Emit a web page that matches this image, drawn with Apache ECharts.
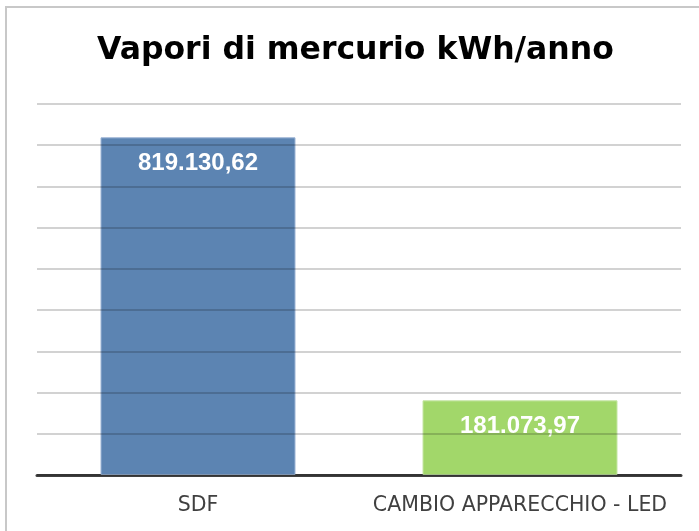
<!DOCTYPE html>
<html>
<head>
<meta charset="utf-8">
<script src="https://cdn.jsdelivr.net/npm/echarts@6/dist/echarts.min.js"></script>
<style>
  html, body { margin: 0; padding: 0; background: #fff; }
  #chart { width: 699px; height: 531px; }
</style>
</head>
<body>
<div id="chart"></div>
<script>
// dati del grafico
var categorie = ["SDF", "CAMBIO APPARECCHIO - LED"];
var valori = [819130.62, 181073.97];
var coloriBarre = ["rgba(64,110,165,0.85)", "rgba(146,208,80,0.85)"];
var bordiBarre = ["#9cb4d5", "#c5e6a4"];

(function () {
  var myChart = echarts.init(document.getElementById("chart"));

  // formato italiano: 819.130,62
  function formatIt(v) {
    var parts = v.toFixed(2).split(".");
    return parts[0].replace(/\B(?=(\d{3})+(?!\d))/g, ".") + "," + parts[1];
  }

  var option = {
    animation: false,
    title: {
      text: "Vapori di mercurio kWh/anno",
      left: 92,
      top: 30,
      textStyle: {
        fontFamily: "DejaVu Sans",
        fontWeight: "bold",
        fontSize: 31.5,
        color: "#000"
      }
    },
    // cornice esterna
    graphic: [
      {
        type: "rect",
        shape: { x: 6, y: 7, width: 700, height: 540 },
        style: { fill: "none", stroke: "#c8c8c8", lineWidth: 2 },
        silent: true
      }
    ],
    grid: {
      left: 37,
      right: 18,
      top: 104,
      bottom: 56
    },
    xAxis: {
      type: "category",
      data: categorie,
      axisTick: { show: false },
      axisLine: {
        lineStyle: { color: "#404040", width: 3 }
      },
      axisLabel: {
        interval: 0,
        color: "#404040",
        fontFamily: "DejaVu Sans",
        fontSize: 20.5,
        margin: 20
      }
    },
    yAxis: {
      type: "value",
      min: 0,
      max: 900000,
      interval: 100000,
      z: 3,
      axisLabel: { show: false },
      axisLine: { show: false },
      axisTick: { show: false },
      splitLine: {
        lineStyle: { color: "rgba(0,0,0,0.24)", width: 1.5 }
      }
    },
    series: [
      {
        type: "bar",
        barWidth: 195,
        z: 2,
        data: valori.map(function (v, i) {
          return {
            value: v,
            itemStyle: {
              color: coloriBarre[i],
              borderColor: bordiBarre[i],
              borderWidth: 1
            }
          };
        }),
        label: {
          show: true,
          position: "insideTop",
          distance: 14,
          color: "#fff",
          fontFamily: "Liberation Sans",
          fontWeight: "bold",
          fontSize: 24,
          formatter: function (p) { return formatIt(p.value); }
        }
      }
    ]
  };

  myChart.setOption(option);
  window.addEventListener("resize", function () {
    myChart.resize();
  });
})();
</script>
</body>
</html>
